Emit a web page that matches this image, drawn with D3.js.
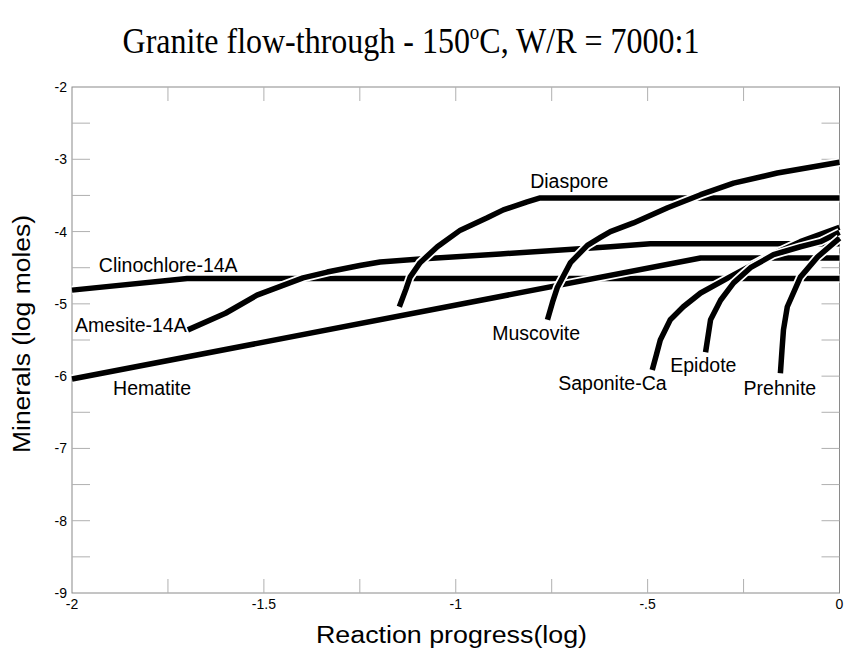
<!DOCTYPE html>
<html>
<head>
<meta charset="utf-8">
<script src="https://cdn.jsdelivr.net/npm/d3@7"></script>
<style>
  body { margin: 0; background: #fff; }
  svg { display: block; }
  .tick-label { font-family: "Liberation Sans", Arial, sans-serif; font-size: 14px; fill: #000; }
  .axis-title { font-family: "Liberation Sans", Arial, sans-serif; font-size: 23px; fill: #000; }
  .line-label { font-family: "Liberation Sans", Arial, sans-serif; font-size: 19.5px; fill: #000; }
  .title { font-family: "Liberation Serif", "Times New Roman", serif; font-size: 32px; fill: #000; }
</style>
</head>
<body>
<script>
// axis ticks
const xTicks = [-2, -1.5, -1, -0.5, 0];
const xTickLabels = ['-2', '-1.5', '-1', '-.5', '0'];
const yTicks = [-2, -3, -4, -5, -6, -7, -8, -9];

// mineral curves: [reaction progress (log), log moles]
const clinochlore = [[-2, -4.81], [-1.70, -4.65], [0, -4.65]];
const hematite = [[-2, -6.04], [-0.362, -4.365], [0, -4.365]];
const amesite = [[-1.698, -5.36], [-1.60, -5.13], [-1.518, -4.88], [-1.398, -4.64], [-1.335, -4.56],
    [-1.25, -4.47], [-1.197, -4.42], [-1.093, -4.38], [-0.884, -4.31], [-0.597, -4.21],
    [-0.493, -4.17], [0, -4.17]];
const diaspore = [[-1.147, -5.04], [-1.130, -4.80], [-1.119, -4.63], [-1.093, -4.43], [-1.048, -4.21],
    [-0.988, -3.98], [-0.918, -3.81], [-0.876, -3.70], [-0.814, -3.59], [-0.780, -3.535], [0, -3.535]];
const muscovite = [[-0.761, -5.22], [-0.748, -4.98], [-0.735, -4.77], [-0.701, -4.43], [-0.657, -4.19],
    [-0.623, -4.08], [-0.597, -4.00], [-0.537, -3.88], [-0.448, -3.67], [-0.362, -3.49],
    [-0.276, -3.33], [-0.162, -3.19], [0, -3.04]];
const saponite = [[-0.488, -5.915], [-0.477, -5.70], [-0.467, -5.50], [-0.441, -5.22], [-0.407, -5.04],
    [-0.362, -4.85], [-0.276, -4.60], [-0.188, -4.35], [-0.102, -4.14], [0, -3.94]];
const epidote = [[-0.349, -5.67], [-0.336, -5.22], [-0.310, -4.95], [-0.276, -4.71], [-0.232, -4.50],
    [-0.172, -4.32], [-0.102, -4.21], [-0.050, -4.14], [0, -4.01]];
const prehnite = [[-0.154, -5.96], [-0.150, -5.65], [-0.146, -5.36], [-0.136, -5.04], [-0.102, -4.63],
    [-0.057, -4.35], [0, -4.09]];

// drawing order (later curves sit on top)
const minerals = ['Clinochlore-14A', 'Hematite', 'Amesite-14A', 'Diaspore', 'Muscovite',
    'Saponite-Ca', 'Epidote', 'Prehnite'];
const curves = [clinochlore, hematite, amesite, diaspore, muscovite, saponite, epidote, prehnite];
// label anchors in data units (left end of text baseline)
const labelAt = [[-1.930, -4.56], [-1.893, -6.26], [-1.992, -5.39], [-0.806, -3.40], [-0.905, -5.50],
    [-0.733, -6.19], [-0.441, -5.94], [-0.250, -6.26]];

const width = 845;
const height = 652;
const svg = d3.select('body').append('svg')
    .attr('width', width)
    .attr('height', height);

const x = d3.scaleLinear().domain([-2, 0]).range([72, 839.5]);
const y = d3.scaleLinear().domain([-2, -9]).range([87, 593]);

// frame
const frameColor = '#8a8a8a';
svg.append('rect')
    .attr('x', x(-2)).attr('y', y(-2))
    .attr('width', x(0) - x(-2)).attr('height', y(-9) - y(-2))
    .attr('fill', 'none')
    .attr('stroke', frameColor)
    .attr('stroke-width', 1);

// minor ticks, pointing inwards
const tickColor = '#b0b0b0';
const xMinor = d3.range(-1.75, 0, 0.25);
const yMinor = d3.range(-2.5, -9, -0.5);
const tickG = svg.append('g').attr('stroke', tickColor).attr('stroke-width', 1);
xMinor.forEach((v) => {
    tickG.append('line').attr('x1', x(v)).attr('x2', x(v)).attr('y1', y(-9)).attr('y2', y(-9) - 14);
    tickG.append('line').attr('x1', x(v)).attr('x2', x(v)).attr('y1', y(-2)).attr('y2', y(-2) + 14);
});
yMinor.forEach((v) => {
    tickG.append('line').attr('x1', x(-2)).attr('x2', x(-2) + 18).attr('y1', y(v)).attr('y2', y(v));
    tickG.append('line').attr('x1', x(0)).attr('x2', x(0) - 18).attr('y1', y(v)).attr('y2', y(v));
});

// x tick labels
svg.append('g').selectAll('text')
    .data(xTicks)
    .enter()
    .append('text')
    .attr('class', 'tick-label')
    .attr('x', d => x(d))
    .attr('y', y(-9) + 16)
    .attr('text-anchor', 'middle')
    .text((d, i) => xTickLabels[i]);

// y tick labels
svg.append('g').selectAll('text')
    .data(yTicks)
    .enter()
    .append('text')
    .attr('class', 'tick-label')
    .attr('x', x(-2) - 5)
    .attr('y', d => y(d) + 5)
    .attr('text-anchor', 'end')
    .text(d => d);

// axis titles
svg.append('text')
    .attr('class', 'axis-title')
    .attr('x', 316)
    .attr('y', 643)
    .attr('textLength', 271)
    .attr('lengthAdjust', 'spacingAndGlyphs')
    .text('Reaction progress(log)');
svg.append('text')
    .attr('class', 'axis-title')
    .attr('transform', 'translate(30,453) rotate(-90)')
    .attr('textLength', 238)
    .attr('lengthAdjust', 'spacingAndGlyphs')
    .text('Minerals (log moles)');

// title with superscript degree
const title = svg.append('text')
    .attr('class', 'title')
    .attr('transform', 'translate(411,53) scale(1,1.13)')
    .attr('text-anchor', 'middle');
title.append('tspan').text('Granite flow-through - 150');
title.append('tspan').attr('dy', -12).attr('font-size', 19).text('o');
title.append('tspan').attr('dy', 12).text('C, W/R = 7000:1');

// curves: white halo under each black stroke
const line = d3.line()
    .x(d => x(d[0]))
    .y(d => y(d[1]));
const curveG = svg.append('g').attr('fill', 'none');
curves.forEach((pts) => {
    curveG.append('path')
        .attr('d', line(pts))
        .attr('stroke', '#fff')
        .attr('stroke-width', 9)
        .attr('stroke-linejoin', 'round');
    curveG.append('path')
        .attr('d', line(pts))
        .attr('stroke', '#000')
        .attr('stroke-width', 5.5)
        .attr('stroke-linejoin', 'round');
});

// curve labels
svg.append('g').selectAll('text')
    .data(minerals)
    .enter()
    .append('text')
    .attr('class', 'line-label')
    .attr('x', (d, i) => x(labelAt[i][0]))
    .attr('y', (d, i) => y(labelAt[i][1]))
    .text(d => d);
</script>
</body>
</html>
